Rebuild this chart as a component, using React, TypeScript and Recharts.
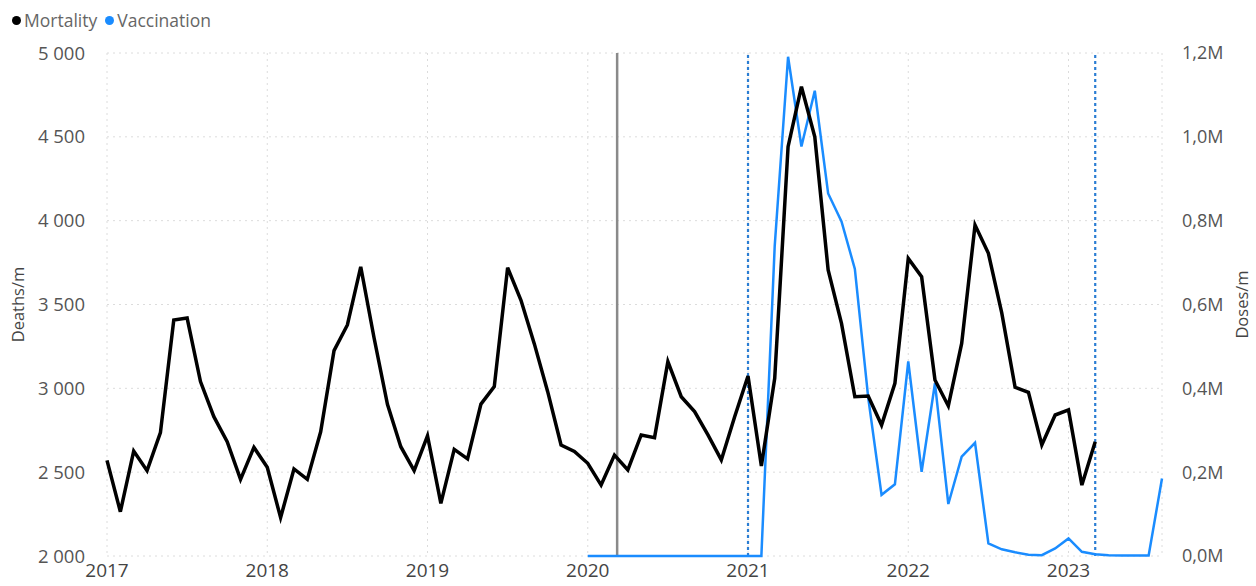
import { LineChart, Line, XAxis, YAxis, CartesianGrid, ReferenceLine } from "recharts";

// monthly values, Jan 2017 onwards
const years = ["2017", "2018", "2019", "2020", "2021", "2022", "2023"];

const mortality = [
  2570, 2264, 2626, 2509, 2736, 3407, 3419, 3040, 2831, 2682, 2457, 2648,
  2529, 2229, 2519, 2457, 2741, 3225, 3378, 3725, 3300, 2905, 2652, 2509,
  2717, 2314, 2636, 2579, 2906, 3010, 3720, 3525, 3265, 2980, 2662, 2623,
  2553, 2423, 2602, 2513, 2722, 2706, 3159, 2950, 2861, 2722, 2573, 2831,
  3074, 2537, 3060, 4441, 4799, 4500, 3706, 3387, 2950, 2954, 2781, 3030,
  3775, 3666, 3050, 2895, 3268, 3974, 3805, 3450, 3006, 2976, 2662, 2841,
  2871, 2423, 2682,
];

// doses per month, Jan 2020 onwards
const vaccinationStart = 36;
const vaccination = [
  0, 0, 0, 0, 0, 0, 0, 0, 0, 0, 0, 0,
  0, 0, 740000, 1191000, 977000, 1110000, 865000, 798000, 685000, 378000, 146000, 171000,
  464000, 201000, 412000, 124000, 237000, 270000, 30000, 16000, 9000, 3000, 2000, 18000,
  42000, 10000, 4000, 2000, 1000, 1000, 1000, 185000,
];

const deathTicks = [2000, 2500, 3000, 3500, 4000, 4500, 5000];
const doseTicks = [0, 200000, 400000, 600000, 800000, 1000000, 1200000];

// event markers (month index)
const lockdownMonths = [38.2];
const vaccineMonths = [48, 74];

const lastMonth = vaccinationStart + vaccination.length - 1;

const data = Array.from({ length: lastMonth + 1 }, (_, m) => ({
  m,
  deaths: m < mortality.length ? mortality[m] : null,
  doses: m >= vaccinationStart ? vaccination[m - vaccinationStart] : null,
}));

const font = '"Segoe UI", "Open Sans", sans-serif';

const fmtDeaths = (v: number) => String(v).replace(/\B(?=(\d{3})+(?!\d))/g, " ");
const fmtDoses = (v: number) => (v / 1e6).toFixed(1).replace(".", ",") + "M";

export default function App() {
  return (
    <div style={{ position: "absolute", left: 0, top: 0, width: 1256, height: 586, background: "#fff", fontFamily: font }}>
      <div style={{ position: "absolute", left: 12, top: 8, display: "flex", alignItems: "center", fontSize: 17.5, color: "#666", zIndex: 2 }}>
        <span style={{ width: 9, height: 9, borderRadius: "50%", background: "#000", marginRight: 3 }} />
        <span style={{ marginRight: 8 }}>Mortality</span>
        <span style={{ width: 9, height: 9, borderRadius: "50%", background: "#1a8cff", marginRight: 3 }} />
        <span>Vaccination</span>
      </div>
      <LineChart width={1256} height={586} data={data} margin={{ top: 53, right: 0, bottom: 0, left: 0 }}>
        <CartesianGrid yAxisId="left" stroke="#dcdcdc" strokeDasharray="2 4" />
        <XAxis
          dataKey="m"
          type="number"
          domain={[0, lastMonth]}
          ticks={years.map((_, i) => i * 12)}
          tickFormatter={(v: number) => years[v / 12]}
          interval={0}
          axisLine={false}
          tickLine={false}
          height={30}
          tickMargin={2}
          tick={{ fontSize: 19, fill: "#444", fontFamily: font }}
        />
        <YAxis
          yAxisId="left"
          domain={[2000, 5000]}
          ticks={deathTicks}
          interval={0}
          tickFormatter={fmtDeaths}
          axisLine={false}
          tickLine={false}
          width={107}
          tickMargin={16}
          tick={{ fontSize: 18.5, fill: "#555", fontFamily: font }}
          label={{ value: "Deaths/m", angle: -90, position: "insideLeft", offset: 18, textAnchor: "middle", fontSize: 16.5, fill: "#444", fontFamily: font }}
        />
        <YAxis
          yAxisId="right"
          orientation="right"
          domain={[0, 1200000]}
          ticks={doseTicks}
          interval={0}
          tickFormatter={fmtDoses}
          axisLine={false}
          tickLine={false}
          width={94}
          tickMargin={14}
          tick={{ fontSize: 18, fill: "#555", fontFamily: font }}
          label={{ value: "Doses/m", angle: -90, position: "insideRight", offset: 14, textAnchor: "middle", fontSize: 16.5, fill: "#444", fontFamily: font }}
        />
        {lockdownMonths.map((x) => (
          <ReferenceLine key={"l" + x} yAxisId="left" x={x} stroke="#8a8a8a" strokeWidth={2.5} />
        ))}
        {vaccineMonths.map((x) => (
          <ReferenceLine key={"v" + x} yAxisId="left" x={x} stroke="#2a7dd3" strokeWidth={2.2} strokeDasharray="3 3" />
        ))}
        <Line
          yAxisId="right"
          dataKey="doses"
          stroke="#1a8cff"
          strokeWidth={2.5}
          dot={false}
          isAnimationActive={false}
        />
        <Line
          yAxisId="left"
          dataKey="deaths"
          stroke="#000"
          strokeWidth={3.5}
          dot={false}
          isAnimationActive={false}
        />
      </LineChart>
    </div>
  );
}
